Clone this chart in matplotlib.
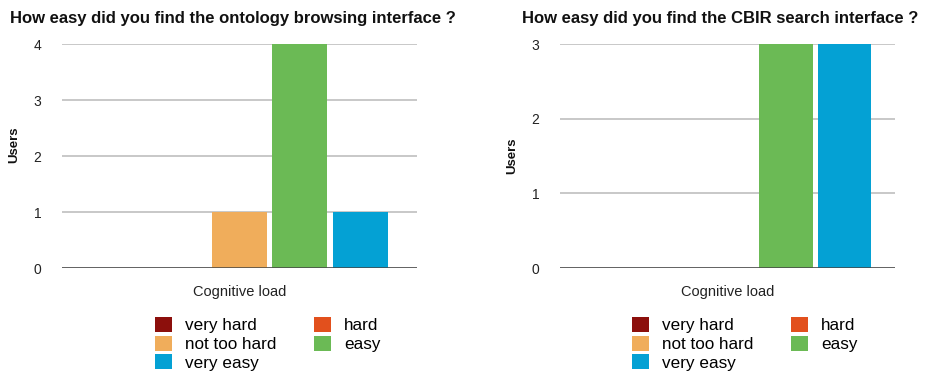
import matplotlib
matplotlib.use("Agg")
import matplotlib.pyplot as plt
from matplotlib.patches import Patch

plt.rcParams['font.family'] = ['Liberation Sans', 'DejaVu Sans']

# Answer levels (series) and their colours
levels = ["very hard", "hard", "not too hard", "easy", "very easy"]
colors = ["#8c0f0c", "#e2501d", "#f0ad5b", "#6bba55", "#04a1d4"]

# Users per answer level for each interface
ontology_users = [0, 0, 1, 4, 1]
cbir_users = [0, 0, 0, 3, 3]

titles = ["How easy did you find the ontology browsing interface ?",
          "How easy did you find the CBIR search interface ?"]
category = "Cognitive load"
ylabel = "Users"

fig = plt.figure(figsize=(9.38, 3.73), dpi=100)
W, H = 938, 373


def px_axes(x0, y0, x1, y1):
    return fig.add_axes([x0 / W, 1 - y1 / H, (x1 - x0) / W, (y1 - y0) / H])


panels = [
    dict(box=(62, 44, 417, 268), values=ontology_users, ymax=4, margin=0.44,
         title_x=10, ylab_x=14, ylab_y=145, leg_x=155, leg_y=317),
    dict(box=(560, 44, 895, 268), values=cbir_users, ymax=3, margin=0.36,
         title_x=522, ylab_x=512, ylab_y=156, leg_x=632, leg_y=317),
]

for p, title in zip(panels, titles):
    x0, y0, x1, y1 = p["box"]
    ax = px_axes(x0, y0, x1, y1)
    xs = list(range(len(levels)))
    ax.bar(xs, p["values"], width=0.91, color=colors, zorder=3)
    ax.set_xlim(-0.5 - p["margin"], len(levels) - 0.5 + p["margin"])
    ax.set_ylim(0, p["ymax"])
    ax.set_yticks(range(p["ymax"] + 1))
    ax.yaxis.grid(True, color="#c4c4c4", linewidth=1.3, zorder=0)
    ax.axhline(0, color="#444444", linewidth=1.8, zorder=4)
    for s in ax.spines.values():
        s.set_visible(False)
    ax.tick_params(axis="y", length=0, pad=15, labelsize=10, labelcolor="#222222")
    ax.set_xticks([])
    ax.set_xlabel(category, fontsize=10.5, labelpad=12, color="#222222")
    ax.patch.set_alpha(0)

    fig.text(p["title_x"] / W, 1 - 19 / H, title, fontsize=12, fontweight="bold",
             ha="left", va="center", color="#111111")
    fig.text(p["ylab_x"] / W, 1 - p["ylab_y"] / H, ylabel, fontsize=9.5,
             fontweight="bold", rotation=90, ha="center", va="center",
             color="#111111")

    # legend laid out row-wise: column 1 gets entries 0,2,4 and column 2 gets 1,3
    order = [0, 2, 4, 1, 3]
    handles = [Patch(facecolor=colors[i], edgecolor="none") for i in order]
    labels = [levels[i] for i in order]
    fig.legend(handles, labels, loc="upper left",
               bbox_to_anchor=(p["leg_x"] / W, 1 - p["leg_y"] / H),
               ncol=2, frameon=False, fontsize=12.3, handlelength=1.0,
               handleheight=1.0, handletextpad=0.75, columnspacing=2.2,
               labelspacing=0.12, borderpad=0, borderaxespad=0)

fig.savefig("out.png", dpi=100)
